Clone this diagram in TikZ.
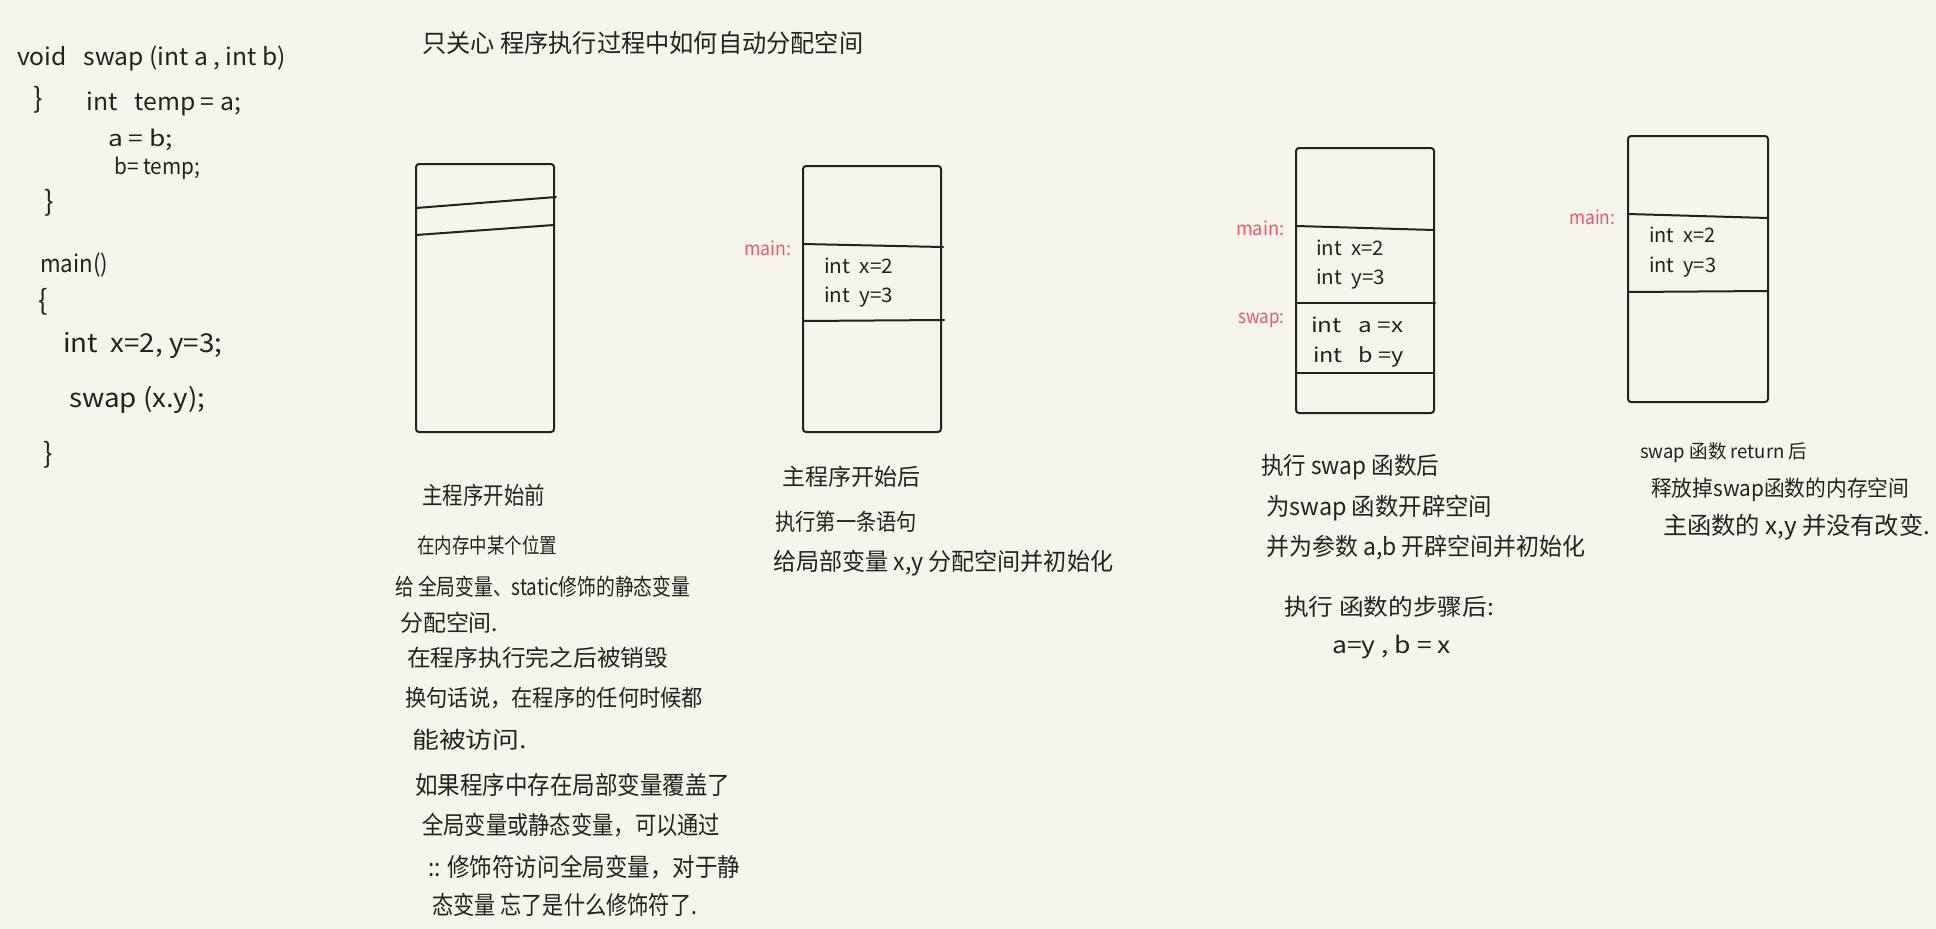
\documentclass[tikz,border=0pt]{standalone}
\usepackage{fontspec}
\setmainfont{Noto Sans CJK SC}
\usepackage{graphicx}
\definecolor{bg}{HTML}{F5F5EB}
\definecolor{ink}{HTML}{222222}
\definecolor{redlab}{HTML}{F0566A}
% scale horizontally only, to the width of the handwritten line
\newsavebox\fwbox
\newcommand\fw[2]{\sbox\fwbox{#2}\pgfmathsetmacro\fwsx{#1/\the\wd\fwbox}\scalebox{\fwsx}[1]{\usebox\fwbox}}
\begin{document}
\begin{tikzpicture}[x=1pt,y=-1pt,
  txt/.style={anchor=west,inner sep=0pt,text=ink,font=\fontsize{23}{26}\selectfont},
  code/.style={txt,font=\fontsize{24}{28}\selectfont},
  cell/.style={txt,font=\fontsize{20}{24}\selectfont},
  lab/.style={anchor=west,inner sep=0pt,text=redlab,font=\fontsize{19}{22}\selectfont},
  brace/.style={anchor=center,inner sep=0pt,text=ink,font=\fontsize{28}{32}\selectfont},
  stack/.style={draw=ink,line width=2pt,rounded corners=3pt},
  sep/.style={draw=ink,line width=2pt,line cap=round}]
\fill[bg] (0,0) rectangle (1936,929);
\useasboundingbox (0,0) rectangle (1936,929);

% ---------- code ----------
\node[code] (c1) at (17,58) {\fw{269}{void\ \ \ swap (int a , int b)}};
\node[brace] (c2) at (38,100) {\}};
\node[code] (c3) at (86,104) {\fw{155}{int\ \ \ temp = a;}};
\node[code,font=\fontsize{22}{26}\selectfont] (c4) at (108,140) {\fw{65}{a = b;}};
\node[code,font=\fontsize{22}{26}\selectfont] (c5) at (114,168) {\fw{86}{b= temp;}};
\node[brace] (c6) at (49,203) {\}};
\node[code] (c7) at (40,265) {\fw{68}{main()}};
\node[brace] (c8) at (43,302) {\{};
\node[code,font=\fontsize{26}{30}\selectfont] (c9) at (63,345) {\fw{159}{int\ \ x=2,\ y=3;}};
\node[code,font=\fontsize{26}{30}\selectfont] (c10) at (69,400) {\fw{136}{swap (x.y);}};
\node[brace] (c11) at (48,455) {\}};

% ---------- title ----------
\node[txt,font=\fontsize{25}{28}\selectfont] (title) at (422,43) {\fw{441}{只关心 程序执行过程中如何自动分配空间}};

% ---------- stack 1 ----------
\draw[stack] (416,164) rectangle (554,432);
\coordinate (s1a) at (416,208); \coordinate (s1b) at (556,197);
\coordinate (s1c) at (416,235); \coordinate (s1d) at (554,225);
\draw[sep] (s1a) -- (s1b);
\draw[sep] (s1c) -- (s1d);

% ---------- stack 2 ----------
\draw[stack] (803,166) rectangle (941,432);
\coordinate (s2a) at (803,244); \coordinate (s2b) at (943,247);
\coordinate (s2c) at (803,321); \coordinate (s2d) at (944,320);
\draw[sep] (s2a) -- (s2b);
\draw[sep] (s2c) -- (s2d);
\node[lab] (m2) at (744,248) {\fw{47}{main:}};
\node[cell] (x2) at (824,266) {\fw{69}{int\ \ x=2}};
\node[cell] (y2) at (824,297) {\fw{69}{int\ \ y=3}};

% ---------- stack 3 ----------
\draw[stack] (1296,148) rectangle (1434,413);
\coordinate (s3a) at (1296,226); \coordinate (s3b) at (1434,230);
\coordinate (s3c) at (1296,303); \coordinate (s3d) at (1435,303);
\coordinate (s3e) at (1296,373); \coordinate (s3f) at (1434,373);
\draw[sep] (s3a) -- (s3b);
\draw[sep] (s3c) -- (s3d);
\draw[sep] (s3e) -- (s3f);
\node[lab] (m3) at (1236,228) {\fw{48}{main:}};
\node[lab] (w3) at (1238,320) {\fw{46}{swap:}};
\node[cell] (x3) at (1316,248) {\fw{68}{int\ \ x=2}};
\node[cell] (y3) at (1316,279) {\fw{69}{int\ \ y=3}};
\node[cell] (a3) at (1311,325) {\fw{92}{int\ \ \ a =x}};
\node[cell] (b3) at (1313,357) {\fw{90}{int\ \ \ b =y}};

% ---------- stack 4 ----------
\draw[stack] (1628,136) rectangle (1768,402);
\coordinate (s4a) at (1628,214); \coordinate (s4b) at (1768,218);
\coordinate (s4c) at (1628,292); \coordinate (s4d) at (1768,291);
\draw[sep] (s4a) -- (s4b);
\draw[sep] (s4c) -- (s4d);
\node[lab] (m4) at (1569,217) {\fw{46}{main:}};
\node[cell] (x4) at (1649,235) {\fw{66}{int\ \ x=2}};
\node[cell] (y4) at (1649,267) {\fw{67}{int\ \ y=3}};

% ---------- captions 1 ----------
\node[txt,font=\fontsize{24}{28}\selectfont] (t1) at (422,495) {\fw{123}{主程序开始前}};
\node[txt,font=\fontsize{21}{24}\selectfont] (t2) at (417,545) {\fw{140}{在内存中某个位置}};
\node[txt] (t3) at (395,587) {\fw{295}{给 全局变量、static修饰的静态变量}};
\node[txt] (t4) at (400,623) {\fw{98}{分配空间.}};
\node[txt] (t5) at (407,658) {\fw{261}{在程序执行完之后被销毁}};
\node[txt] (t6) at (405,698) {\fw{298}{换句话说，在程序的任何时候都}};
\node[txt] (t7) at (412,740) {\fw{115}{能被访问.}};
\node[txt,font=\fontsize{25}{28}\selectfont] (t8) at (415,785) {\fw{315}{如果程序中存在局部变量覆盖了}};
\node[txt,font=\fontsize{25}{28}\selectfont] (t9) at (422,825) {\fw{298}{全局变量或静态变量，可以通过}};
\node[txt,font=\fontsize{25}{28}\selectfont] (t10) at (428,867) {\fw{312}{:: 修饰符访问全局变量，对于静}};
\node[txt,font=\fontsize{25}{28}\selectfont] (t11) at (432,905) {\fw{265}{态变量 忘了是什么修饰符了.}};

% ---------- captions 2 ----------
\node[txt] (u1) at (782,477) {\fw{138}{主程序开始后}};
\node[txt] (u2) at (775,522) {\fw{142}{执行第一条语句}};
\node[txt,font=\fontsize{24}{28}\selectfont] (u3) at (773,563) {\fw{340}{给局部变量 x,y 分配空间并初始化}};

% ---------- captions 3 ----------
\node[txt,font=\fontsize{24}{28}\selectfont] (v1) at (1261,467) {\fw{178}{执行 swap 函数后}};
\node[txt,font=\fontsize{24}{28}\selectfont] (v2) at (1266,508) {\fw{226}{为swap 函数开辟空间}};
\node[txt,font=\fontsize{24}{28}\selectfont] (v3) at (1266,548) {\fw{319}{并为参数 a,b 开辟空间并初始化}};
\node[txt] (v4) at (1284,607) {\fw{210}{执行 函数的步骤后:}};
\node[txt] (v5) at (1332,647) {\fw{119}{a=y , b = x}};

% ---------- captions 4 ----------
\node[txt,font=\fontsize{19}{22}\selectfont] (w1) at (1640,453) {\fw{167}{swap 函数 return 后}};
\node[txt,font=\fontsize{22}{26}\selectfont] (w2) at (1651,490) {\fw{258}{释放掉swap函数的内存空间}};
\node[txt,font=\fontsize{24}{28}\selectfont] (w3c) at (1663,527) {\fw{267}{主函数的 x,y 并没有改变.}};
\end{tikzpicture}
\end{document}
